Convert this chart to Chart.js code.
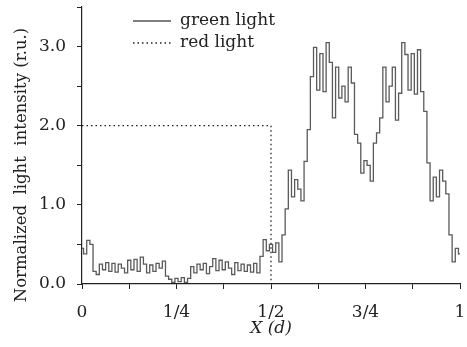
<!DOCTYPE html>
<html>
<head>
<meta charset="utf-8">
<script src="https://cdn.jsdelivr.net/npm/chart.js@4"></script>
<style>
  html, body { margin: 0; padding: 0; background: #fff; }
  #wrap { width: 467px; height: 347px; }
</style>
</head>
<body>
<div id="wrap"><canvas id="lightChart" width="467" height="347"></canvas></div>
<script>
// green light profile, sampled at 121 positions across X in [0, 1]
const greenValues = [
  0.45, 0.38, 0.55, 0.50, 0.16, 0.12, 0.25, 0.18, 0.27, 0.16,
  0.26, 0.15, 0.25, 0.20, 0.14, 0.30, 0.18, 0.31, 0.16, 0.34,
  0.25, 0.14, 0.24, 0.16, 0.26, 0.20, 0.29, 0.10, 0.06, 0.02,
  0.07, 0.03, 0.08, 0.02, 0.07, 0.22, 0.14, 0.25, 0.18, 0.26,
  0.13, 0.22, 0.32, 0.17, 0.30, 0.18, 0.28, 0.20, 0.12, 0.27,
  0.17, 0.25, 0.16, 0.24, 0.15, 0.26, 0.14, 0.35, 0.56, 0.42,
  0.50, 0.40, 0.52, 0.28, 0.62, 0.95, 1.44, 1.10, 1.32, 1.20,
  1.05, 1.55, 1.95, 2.62, 2.99, 2.45, 2.91, 2.43, 3.05, 2.80,
  2.10, 2.74, 2.35, 2.50, 2.30, 2.74, 2.54, 1.89, 1.78, 1.40,
  1.56, 1.50, 1.30, 1.78, 1.91, 2.10, 2.74, 2.30, 2.50, 2.74,
  2.07, 2.41, 3.05, 2.90, 2.45, 2.91, 2.40, 2.96, 2.43, 2.18,
  1.53, 1.05, 1.35, 1.10, 1.44, 1.30, 1.14, 0.62, 0.28, 0.45,
  0.38
];
const redX = [0, 0.5, 0.5, 1];
const redValues = [2.0, 2.0, 0.0, 0.0];
const xTickLabels = { 0: '0', 0.25: '1/4', 0.5: '1/2', 0.75: '3/4', 1: '1' };
const seriesNames = ['green light', 'red light'];
const yTitle = 'Normalized  light  intensity (r.u.)';

const serif = '"DejaVu Serif", "Liberation Serif", serif';
const n = greenValues.length - 1;
const greenData = greenValues.map((v, i) => ({ x: i / n, y: v }));
const redData = redValues.map((v, i) => ({ x: redX[i], y: v }));

// legend inside the plot (top left) and the y title, which sits a bit
// lower than the axis centre in the original
const overlay = {
    id: 'overlay',
    afterDraw(chart) {
        const c = chart.ctx;
        c.save();
        c.font = '17px ' + serif;
        c.fillStyle = '#222';
        c.textBaseline = 'middle';
        const rows = [
            { y: 21, dash: [], color: '#555' },
            { y: 43, dash: [1.5, 3], color: '#222' }
        ];
        rows.forEach((r, k) => {
            c.beginPath();
            c.setLineDash(r.dash);
            c.strokeStyle = r.color;
            c.lineWidth = 1.3;
            c.moveTo(133, r.y);
            c.lineTo(171, r.y);
            c.stroke();
            c.fillText(seriesNames[k], 180, r.y);
        });

        c.font = '16.5px ' + serif;
        c.textAlign = 'center';
        c.translate(22, 165);
        c.rotate(-Math.PI / 2);
        c.fillText(yTitle, 0, 0);
        c.restore();
    }
};

const ctx = document.getElementById('lightChart').getContext('2d');
new Chart(ctx, {
    type: 'line',
    data: {
        datasets: [
            {
                label: seriesNames[0],
                data: greenData,
                borderColor: '#5a5a5a',
                borderWidth: 1.3,
                pointRadius: 0,
                stepped: 'middle',
                fill: false
            },
            {
                label: seriesNames[1],
                data: redData,
                borderColor: '#222',
                borderWidth: 1.3,
                borderDash: [1.5, 3],
                pointRadius: 0,
                fill: false
            }
        ]
    },
    options: {
        responsive: false,
        animation: false,
        layout: { padding: { top: 7, right: 7, left: 0, bottom: 0 } },
        plugins: {
            legend: { display: false },
            tooltip: { enabled: false }
        },
        scales: {
            x: {
                type: 'linear',
                min: 0,
                max: 1,
                afterFit: s => {
                    s.height = 63;
                    s.paddingLeft = 0;
                    s.paddingRight = 0;
                },
                afterBuildTicks: s => {
                    s.ticks = [0, 1, 2, 3, 4, 5, 6, 7, 8].map(k => ({ value: k / 8 }));
                },
                ticks: {
                    autoSkip: false,
                    maxRotation: 0,
                    color: '#222',
                    padding: 13,
                    font: { family: serif, size: 17 },
                    callback: v => (xTickLabels[v] !== undefined ? xTickLabels[v] : '')
                },
                grid: { drawOnChartArea: false, color: '#222', tickLength: 5 },
                border: { color: '#222', width: 1.2 },
                title: {
                    display: true,
                    text: 'X (d)',
                    color: '#222',
                    font: { family: serif, size: 17, style: 'italic' },
                    padding: { top: 0, bottom: 8 }
                }
            },
            y: {
                min: 0,
                max: 3.5,
                afterFit: s => {
                    s.width = 82;
                    s.paddingTop = 0;
                    s.paddingBottom = 0;
                },
                ticks: {
                    stepSize: 0.25,
                    color: '#222',
                    padding: 11,
                    font: { family: serif, size: 17 },
                    callback: v => (Math.abs(v % 1) < 1e-6 && v < 3.4 ? v.toFixed(1) : '')
                },
                grid: { drawOnChartArea: false, color: '#222', tickLength: 5 },
                border: { color: '#222', width: 1.2 },
                title: { display: false }
            }
        }
    },
    plugins: [overlay]
});
</script>
</body>
</html>
